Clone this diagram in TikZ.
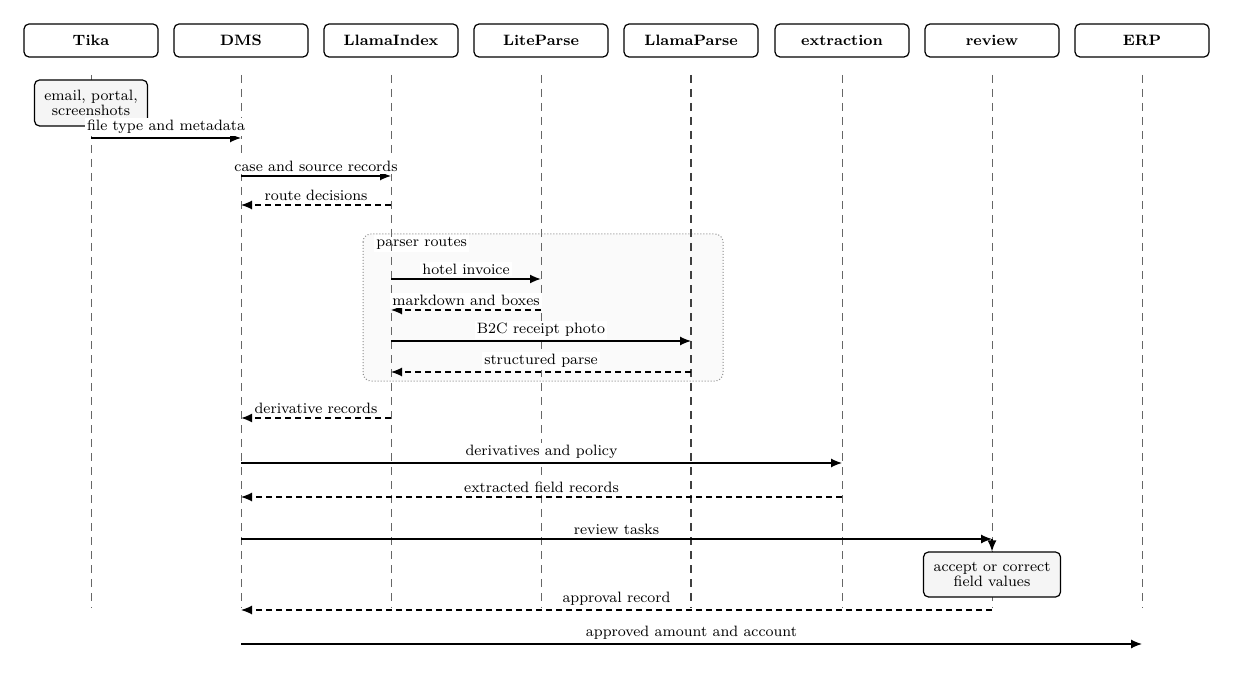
\documentclass[tikz,border=0pt]{standalone}
\usetikzlibrary{arrows.meta}
\newcommand{\smallfs}{\fontsize{7.5}{9}\selectfont}
\begin{document}
\begin{tikzpicture}[x=0.5pt,y=-0.5pt,
  actor/.style={draw, rounded corners=2.5pt, line width=0.6pt, minimum width=67pt, minimum height=16.5pt, inner sep=0pt, font=\smallfs\bfseries},
  lifeline/.style={draw=black!60, line width=0.4pt, dash pattern=on 4pt off 3pt},
  msg/.style={line width=0.6pt, -{Latex[length=5.5pt,width=4.5pt]}},
  ret/.style={msg, dash pattern=on 3pt off 2pt},
  lbl/.style={midway, above, fill=white, inner sep=1pt, font=\smallfs, yshift=0.8pt},
  notebox/.style={draw, rounded corners=2.5pt, fill=black!4, line width=0.6pt, align=center, font=\smallfs, inner sep=2pt}
]
\useasboundingbox (0,0) rectangle (1234,673);
% actors
\foreach \n/\t/\x in {tika/Tika/91, dms/DMS/241, lidx/LlamaIndex/391, lite/LiteParse/541, lpar/LlamaParse/691, extr/extraction/842, rev/review/992, erp/ERP/1142}{
  \node[actor] (\n) at (\x,40.5) {\t};
  \coordinate (\n-top) at (\x,75);
  \coordinate (\n-bot) at (\x,608);
}
% group box
\draw[densely dotted, draw=black!45, fill=black!2, rounded corners=4pt, line width=0.5pt] (363,234) rectangle (723,381);
\node[fill=white, inner sep=1pt, anchor=north west, font=\smallfs] (grp) at (374,235) {parser routes};
% lifelines
\foreach \n in {tika,dms,lidx,lite,extr,rev,erp}{
  \draw[lifeline] (\n-top) -- (\n-bot);
}
\draw[lifeline, draw=black!75, line width=0.55pt] (lpar-top) -- (lpar-bot);
% message levels
\foreach \i/\y in {1/138,2/176,3/205,5/279,6/310,7/341,8/372,9/418,10/463,11/497,12/539,14/610,15/644}{
  \coordinate (m\i) at (0,\y);
}
% notes
\node[notebox, minimum width=56.5pt, minimum height=23pt] (n1) at (91,103) {email, portal,\\[-1.5pt]screenshots};
\node[notebox, minimum width=68.5pt, minimum height=22.5pt] (n2) at (992,574.5) {accept or correct\\[-1.5pt]field values};
% messages
\draw[msg] (tika |- m1) -- node[lbl] {file type and metadata} (dms |- m1);
\draw[msg] (dms |- m2) -- node[lbl] {case and source records} (lidx |- m2);
\draw[ret] (lidx |- m3) -- node[lbl] {route decisions} (dms |- m3);
\draw[msg, line width=0.9pt] (lidx |- m5) -- node[lbl] {hotel invoice} (lite |- m5);
\draw[ret] (lite |- m6) -- node[lbl] {markdown and boxes} (lidx |- m6);
\draw[msg] (lidx |- m7) -- node[lbl] {B2C receipt photo} (lpar |- m7);
\draw[ret] (lpar |- m8) -- node[lbl] {structured parse} (lidx |- m8);
\draw[ret, line width=0.9pt] (lidx |- m9) -- node[lbl] {derivative records} (dms |- m9);
\draw[msg] (dms |- m10) -- node[lbl] {derivatives and policy} (extr |- m10);
\draw[ret] (extr |- m11) -- node[lbl] {extracted field records} (dms |- m11);
\draw[msg] (dms |- m12) -- node[lbl] {review tasks} (rev |- m12);
\draw[msg] (rev |- m12) -- (n2.north);
\draw[ret] (rev |- m14) -- node[lbl] {approval record} (dms |- m14);
\draw[msg] (dms |- m15) -- node[lbl] {approved amount and account} (erp |- m15);
\end{tikzpicture}
\end{document}
